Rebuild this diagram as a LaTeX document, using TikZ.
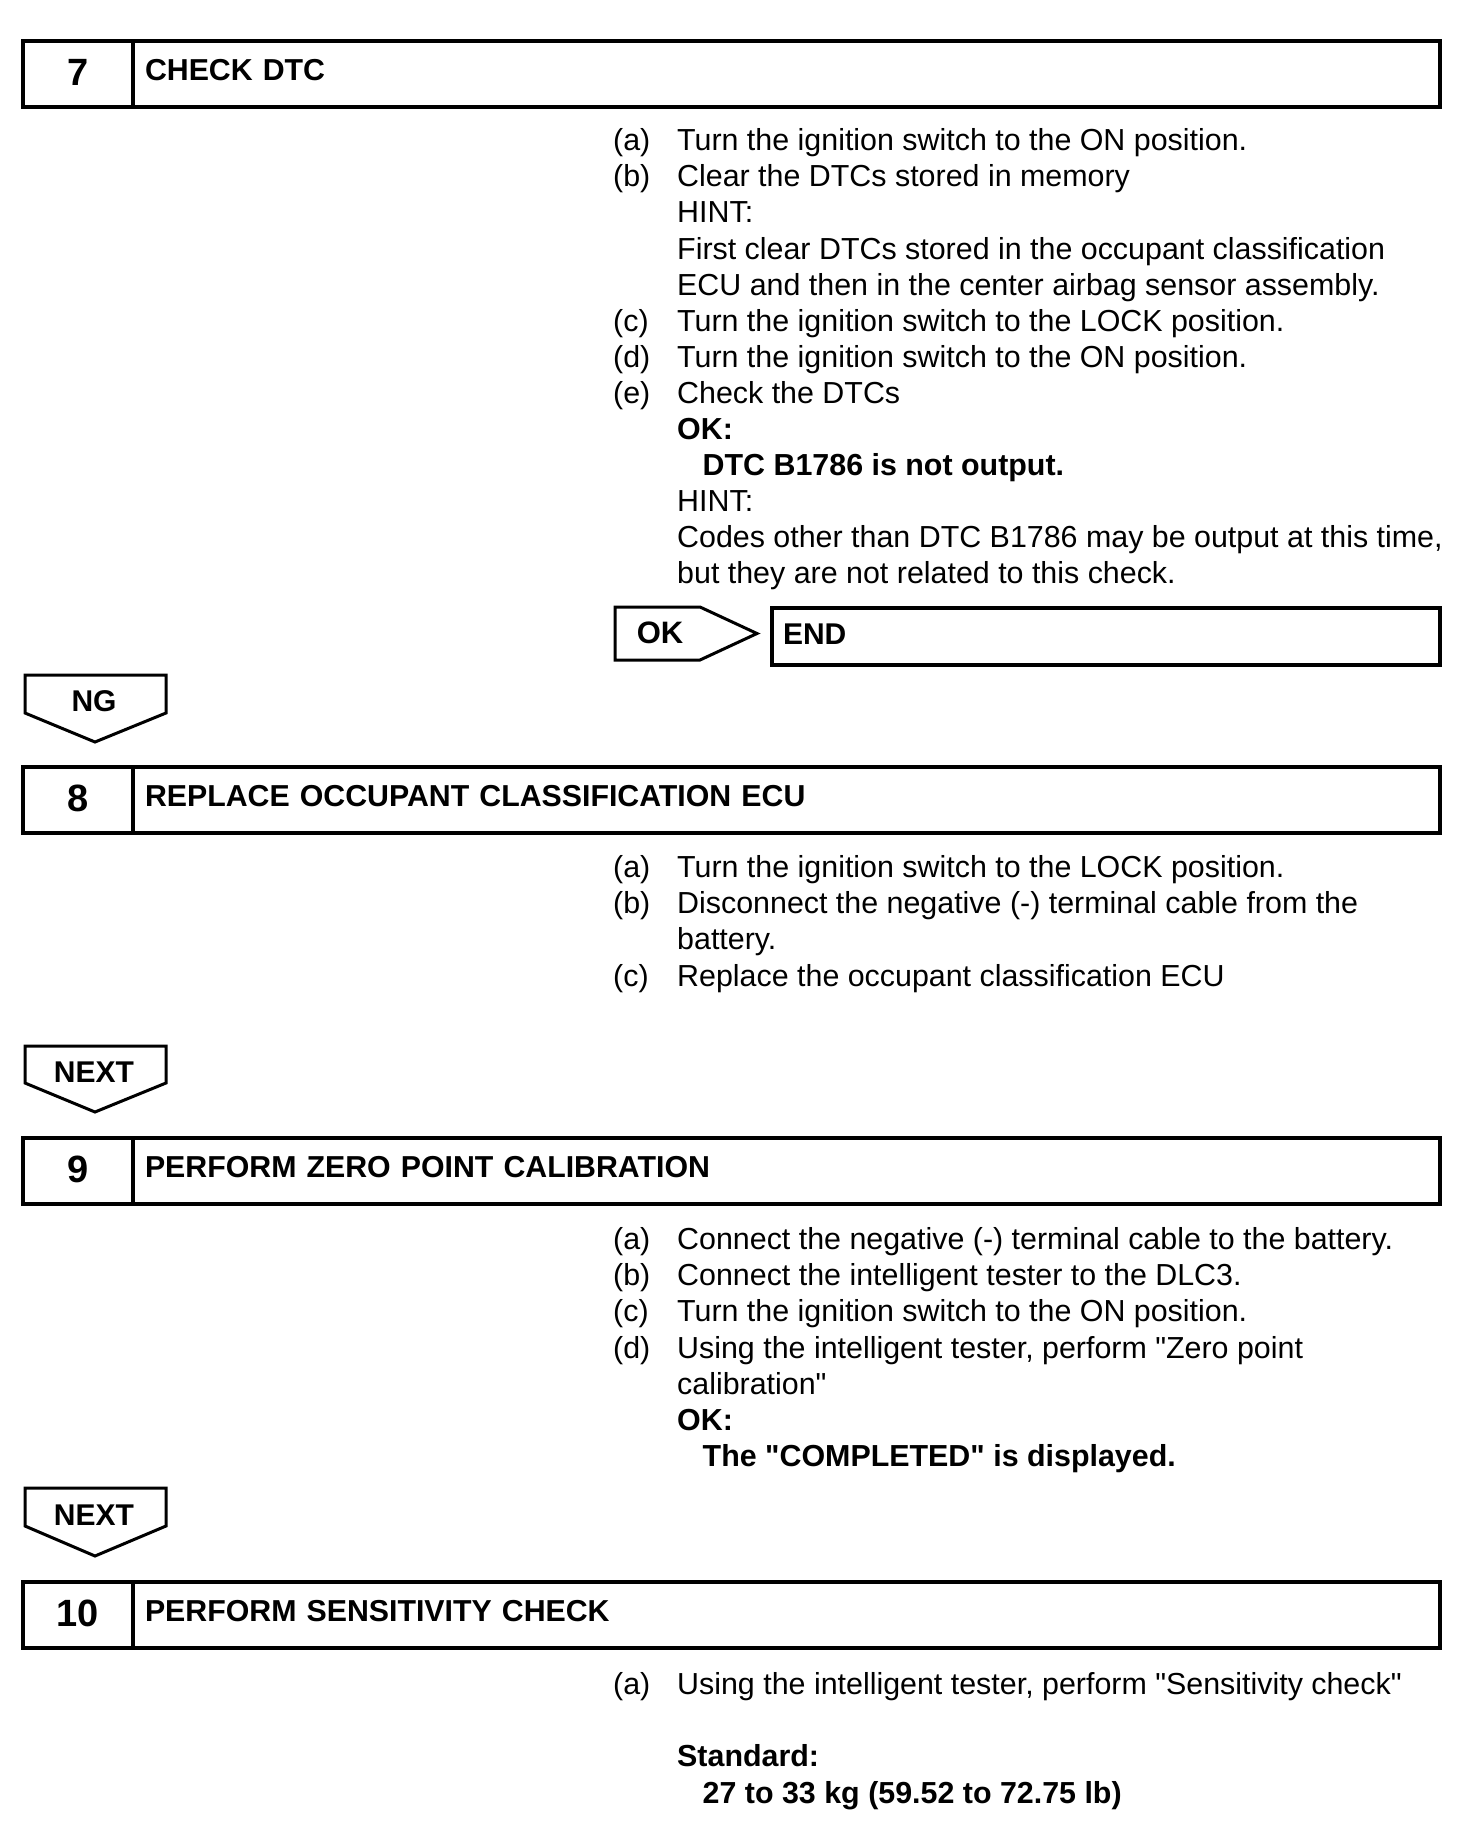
\documentclass[tikz,border=0pt]{standalone}
\usepackage{fontspec}
\setmainfont{Liberation Sans}
\usetikzlibrary{positioning}

\newcommand{\itemlabel}[1]{\makebox[64pt][l]{(#1)}}
\newcommand{\hang}{\hspace*{64pt}}
\newcommand{\okhang}{\hspace*{89.5pt}}
\newcommand{\firststrut}{\rule{0pt}{25pt}}
\newcommand{\dq}{\textquotedbl}

\tikzset{
numcell/.style={
	draw,
	rectangle,
	line width=3.5pt,
	outer sep=0pt,
	minimum width=110pt,
	minimum height=66pt,
	inner sep=0pt,
	text height=27pt,
	text depth=5pt,
	font=\bfseries\fontsize{38}{40}\selectfont
},
titlecell/.style={
	draw,
	rectangle,
	line width=3.5pt,
	outer sep=0pt,
	minimum height=66pt,
	inner xsep=12pt,
	inner ysep=0pt,
	text width=1283pt,
	align=left,
	text height=20pt,
	text depth=8pt,
	font=\bfseries\fontsize{30.3}{36}\selectfont
},
stepbody/.style={
	anchor=north west,
	inner sep=0pt,
	align=left,
	font=\fontsize{30.4}{36.1}\selectfont
},
tagline/.style={
	line width=3pt,
	line join=miter
},
taglabel/.style={
	inner sep=0pt,
	font=\bfseries\fontsize{30}{32}\selectfont
}
}

\begin{document}
\begin{tikzpicture}[x=1pt, y=-1pt]
\useasboundingbox (0,0) rectangle (1472,1834);

% step 7
\node (num7) [numcell, anchor=north west] at (23,41) {7};
\node (title7) [titlecell, right=0pt of num7] {CHECK DTC};
\node (body7) [stepbody] at (613,125.5) {\firststrut\itemlabel{a}Turn the ignition switch to the ON position.\\
  \itemlabel{b}Clear the DTCs stored in memory\\
  \hang HINT:\\
  \hang First clear DTCs stored in the occupant classification\\
  \hang ECU and then in the center airbag sensor assembly.\\
  \itemlabel{c}Turn the ignition switch to the LOCK position.\\
  \itemlabel{d}Turn the ignition switch to the ON position.\\
  \itemlabel{e}Check the DTCs\\
  \hang\textbf{OK:}\\
  \okhang\textbf{DTC B1786 is not output.}\\
  \hang HINT:\\
  \hang Codes other than DTC B1786 may be output at this time,\\
  \hang but they are not related to this check.};

% OK -> END
\draw[tagline] (615,607) -- (700,607) -- (757,633.5) -- (700,660) -- (615,660) -- cycle;
\node (ok) [taglabel, font=\bfseries\fontsize{31}{32}\selectfont] at (660,633) {OK};
\node (end) [draw, rectangle, line width=3.5pt, outer sep=0pt, anchor=north west,
  minimum width=668pt, minimum height=57pt, inner xsep=11pt, inner ysep=0pt,
  text width=646pt, align=left, text height=20pt, text depth=5pt,
  font=\bfseries\fontsize{30}{36}\selectfont] at (772,608) {END};

% NG
\draw[tagline] (25,675) -- (166,675) -- (166,713) -- (95,742) -- (25,713) -- cycle;
\node (ng) [taglabel] at (94,701) {NG};

% step 8
\node (num8) [numcell, anchor=north west] at (23,767) {8};
\node (title8) [titlecell, right=0pt of num8] {REPLACE OCCUPANT CLASSIFICATION ECU};
\node (body8) [stepbody] at (613,852.5) {\firststrut\itemlabel{a}Turn the ignition switch to the LOCK position.\\
  \itemlabel{b}Disconnect the negative (-) terminal cable from the\\
  \hang battery.\\
  \itemlabel{c}Replace the occupant classification ECU};

% NEXT
\draw[tagline] (25,1046) -- (166,1046) -- (166,1083) -- (95,1112) -- (25,1083) -- cycle;
\node (next8) [taglabel] at (94,1072) {NEXT};

% step 9
\node (num9) [numcell, anchor=north west] at (23,1138) {9};
\node (title9) [titlecell, right=0pt of num9] {PERFORM ZERO POINT CALIBRATION};
\node (body9) [stepbody] at (613,1224.5) {\firststrut\itemlabel{a}Connect the negative (-) terminal cable to the battery.\\
  \itemlabel{b}Connect the intelligent tester to the DLC3.\\
  \itemlabel{c}Turn the ignition switch to the ON position.\\
  \itemlabel{d}Using the intelligent tester, perform \dq Zero point\\
  \hang calibration\dq\\
  \hang\textbf{OK:}\\
  \okhang\textbf{The \dq COMPLETED\dq\ is displayed.}};

% NEXT
\draw[tagline] (25,1488) -- (166,1488) -- (166,1526) -- (95,1556) -- (25,1526) -- cycle;
\node (next9) [taglabel] at (94,1515) {NEXT};

% step 10
\node (num10) [numcell, anchor=north west] at (23,1582) {10};
\node (title10) [titlecell, right=0pt of num10] {PERFORM SENSITIVITY CHECK};
\node (body10) [stepbody] at (613,1669.5) {\firststrut\itemlabel{a}Using the intelligent tester, perform \dq Sensitivity check\dq\\[36.1pt]
  \hang\textbf{Standard:}\\
  \okhang\textbf{27 to 33 kg (59.52 to 72.75 lb)}};

\end{tikzpicture}
\end{document}
